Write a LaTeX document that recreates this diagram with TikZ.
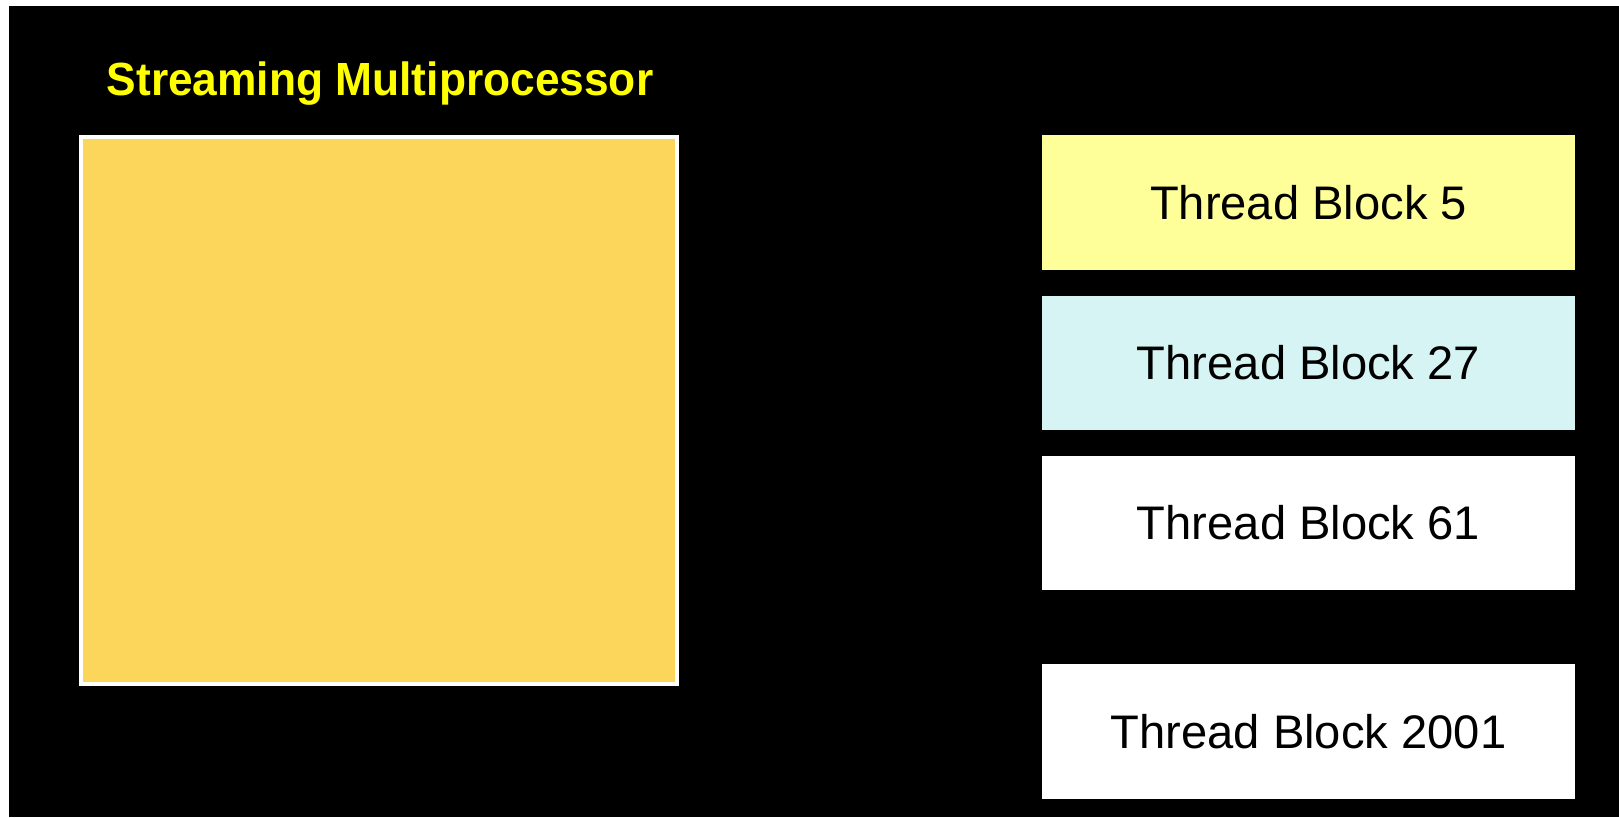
\documentclass[tikz,border=0pt]{standalone}
\usepackage{fontspec}
\setmainfont{Liberation Sans}
\definecolor{smyellow}{RGB}{252,214,90}
\definecolor{tbyellow}{RGB}{255,255,153}
\definecolor{tbcyan}{RGB}{214,244,244}
\definecolor{titleyellow}{RGB}{255,255,0}
\tikzset{
  tblock/.style={rectangle, draw=none, inner sep=0pt, minimum width=5.33cm, minimum height=1.34cm,
    font=\fontsize{13.4}{16}\selectfont, text=black},
  smbox/.style={rectangle, draw=white, line width=0.04cm, fill=smyellow, inner sep=0pt,
    minimum width=5.96cm, minimum height=5.47cm},
  titletext/.style={inner sep=0pt, font=\fontsize{12.6}{15}\selectfont\bfseries, text=titleyellow}
}
\begin{document}
\begin{tikzpicture}[x=0.01cm,y=-0.01cm]
  \fill[white] (0,0) rectangle (1619,817);
  \fill[black] (9,6) rectangle (1619,817);
  \useasboundingbox (0,0) rectangle (1619,817);
  \node[titletext, anchor=base, yscale=1.05] (title) at (380,95) {Streaming Multiprocessor};
  \node[smbox] (sm) at (379,410.5) {};
  \node[tblock, fill=tbyellow] (tb5) at (1308.5,202.5) {Thread Block 5};
  \node[tblock, fill=tbcyan] (tb27) at (1308.5,363) {Thread Block 27};
  \node[tblock, fill=white] (tb61) at (1308.5,523) {Thread Block 61};
  \node[tblock, fill=white] (tb2001) at (1308.5,731.5) {Thread Block 2001};
\end{tikzpicture}
\end{document}
